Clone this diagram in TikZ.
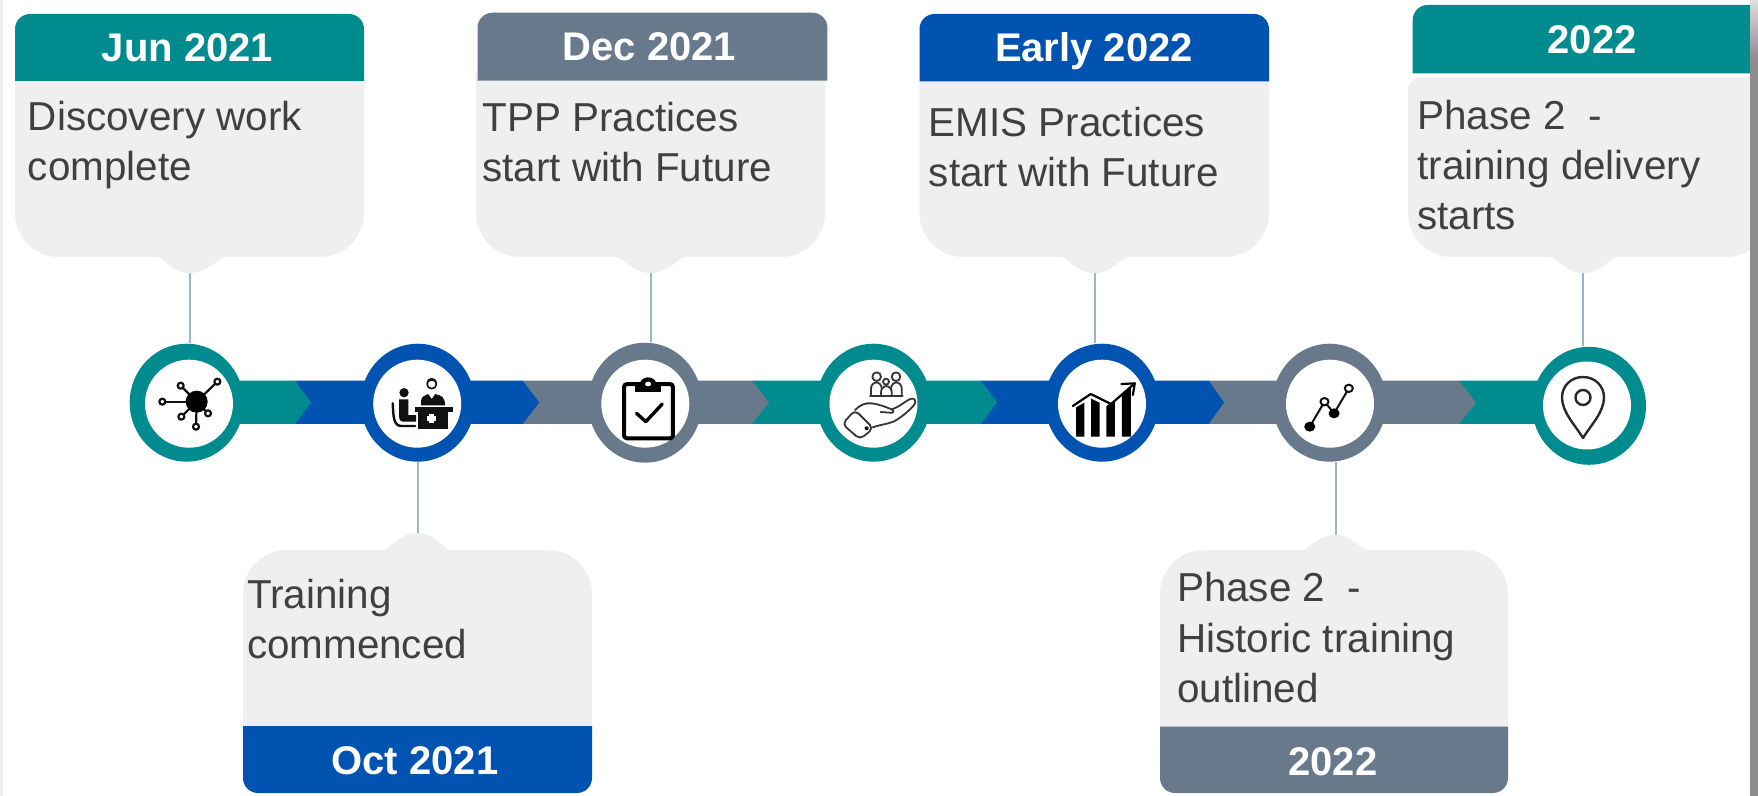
\documentclass[tikz,border=0pt]{standalone}
\usepackage{fontspec}
\setmainfont{Liberation Sans}
\usetikzlibrary{shapes.geometric}
\definecolor{tealc}{HTML}{008B8F}
\definecolor{bluec}{HTML}{0053B1}
\definecolor{grayc}{HTML}{67798A}
\definecolor{bodyc}{HTML}{EFEFF1}
\definecolor{textc}{HTML}{404040}
\definecolor{linec}{HTML}{9DB5C9}
\definecolor{iconc}{HTML}{111111}
\tikzset{
  bodytext/.style={anchor=base west,inner sep=0pt,align=left,text=textc,font=\fontsize{20.2}{25.2}\selectfont},
  headtext/.style={anchor=base,inner sep=0pt,text=white,font=\fontsize{20}{24}\selectfont\bfseries},
  ringo/.style={ellipse,inner sep=0pt,fill=#1,minimum width=57pt,minimum height=59pt},
  ringi/.style={circle,inner sep=0pt,fill=white,minimum size=44pt},
  conn/.style={draw=linec,line width=1pt},
  ico/.style={draw=iconc,line width=1.1pt,line cap=round,line join=round},
}
% colour x1 y1 x2 y2 rtop rbottom
\newcommand{\rbox}[7]{\fill[#1] ({(#2+#4)/2},#3) [rounded corners=#6] -- (#4,#3) -- (#4,{(#3+#5)/2}) [rounded corners=#7] -- (#4,#5) -- (#2,#5) -- (#2,{(#3+#5)/2}) [rounded corners=#6] -- (#2,#3) -- cycle;}
% name bx1 bx2 cx ybase ytip
\newcommand{\bump}[6]{\fill[bodyc] (#2,#5) .. controls ({#2+14},{#5+(#6-#5)*0.55}) and ({#4-14},#6) .. (#4,#6) .. controls ({#4+14},#6) and ({#3-14},{#5+(#6-#5)*0.55}) .. (#3,#5) -- cycle; \coordinate (#1) at (#4,#6);}
\newcommand{\chev}[4]{\fill[#1] (#2,380.7) -- (#3,380.7) -- (#4,402.5) -- (#3,424) -- (#2,424) -- cycle;}
\begin{document}
\begin{tikzpicture}[x=0.5pt,y=-0.5pt]
\useasboundingbox (0,0) rectangle (1758,796);
\fill[white] (0,0) rectangle (1758,796);
\fill[black!6] (0,0) rectangle (3,796);

% callout boxes
\rbox{bodyc}{15}{70}{364}{257}{1pt}{22pt}
\bump{t1}{157}{225}{189.5}{256}{273}
\rbox{tealc}{15}{14}{364}{81}{7.5pt}{0.01pt}
\rbox{bodyc}{476}{70}{825}{257}{1pt}{22pt}
\bump{t3}{616}{685}{650.6}{256}{273}
\rbox{grayc}{477.5}{12.7}{827.4}{80.7}{7.5pt}{0.01pt}
\rbox{bodyc}{919.5}{70}{1269}{257}{1pt}{22pt}
\bump{t5}{1061}{1128}{1095}{256}{273}
\rbox{bluec}{919.5}{14}{1269}{81.5}{7.5pt}{0.01pt}
\rbox{bodyc}{1408}{77}{1770}{257}{7pt}{22pt}
\bump{t7}{1550}{1617}{1583}{256}{273}
\rbox{tealc}{1412.7}{5}{1770}{73.5}{7.5pt}{0.01pt}
\rbox{bodyc}{243}{550}{592}{730}{22pt}{0.01pt}
\bump{t2}{383}{450}{417.7}{551}{533}
\rbox{bluec}{243}{726}{592}{793}{0.01pt}{7.5pt}
\rbox{bodyc}{1160}{550}{1508}{730}{22pt}{0.01pt}
\bump{t6}{1302}{1367}{1335.7}{551}{535}
\rbox{grayc}{1160}{726.7}{1508}{793}{0.01pt}{7.5pt}

% band
\chev{tealc}{1459}{1600}{1600}
\chev{grayc}{1208}{1459}{1476}
\chev{bluec}{981}{1208.7}{1224}
\chev{tealc}{752}{981}{997}
\chev{grayc}{522}{752}{769}
\chev{bluec}{295}{522.7}{539.3}
\chev{tealc}{186}{295}{311}

% rings
\node[ringo=tealc] (c1) at (186.7,402.7) {};
\node[ringo=bluec] (c2) at (417.7,402.7) {};
\node[ringo=grayc,minimum height=60pt] (c3) at (645,402.7) {};
\node[ringo=tealc] (c4) at (873.5,402.7) {};
\node[ringo=bluec] (c5) at (1102,402.7) {};
\node[ringo=grayc] (c6) at (1329.6,402.7) {};
\node[ringo=tealc] (c7) at (1589,405.8) {};
\node[ringi] (i1) at (189,403.7) {};
\node[ringi] (i2) at (417.2,403.7) {};
\node[ringi] (i3) at (645.3,403.7) {};
\node[ringi] (i4) at (873.5,403.7) {};
\node[ringi] (i5) at (1102,403.7) {};
\node[ringi] (i6) at (1330,403.7) {};
\node[ringi] (i7) at (1587,405.5) {};

% connectors
\draw[conn] (t1) -- (t1 |- c1.north);
\draw[conn] (t3) -- (t3 |- c3.north);
\draw[conn] (t5) -- (t5 |- c5.north);
\draw[conn] (t7) -- (t7 |- c7.north);
\draw[conn] (t2) -- (t2 |- c2.south);
\draw[conn] (t6) -- (t6 |- c6.south);

% icon 1: network
\begin{scope}[shift={(100,320)},x=0.1667pt,y=-0.1667pt]
  \foreach \a/\b in {187/245,242/197,352/185,324/280,288/320,244/290}{
    \draw[ico] (290,245) -- (\a,\b);
    \draw[ico,fill=white] (\a,\b) circle (9);
  }
  \fill[black] (290,245) circle (33);
\end{scope}

% icon 2: doctor and patient
\begin{scope}[shift={(100,320)},x=0.1667pt,y=-0.1667pt]
  \fill[iconc] (945,260) rectangle (1060,275);
  \fill[iconc] (955,275) rectangle (1045,328);
  \fill[white] (988,282) rectangle (1002,308);
  \fill[white] (982,288) rectangle (1008,302);
  \fill[iconc] (963,256) -- (963,242) .. controls (963,230) and (975,226) .. (985,222) -- (1005,222) .. controls (1025,226) and (1035,232) .. (1035,256) -- cycle;
  \fill[white] (985,222) -- (1005,222) -- (995,236) -- cycle;
  \draw[ico,fill=white,line width=0.8pt] (995,192) circle (14);
  \fill[iconc] (980,190) .. controls (980,168) and (1010,168) .. (1010,190) .. controls (1000,180) and (990,180) .. (980,190) -- cycle;
  \fill[iconc] (912,218) circle (14);
  \fill[iconc] (897,238) -- (925,238) -- (925,285) -- (948,285) -- (948,305) -- (908,305) .. controls (900,305) and (897,298) .. (897,290) -- cycle;
  \draw[ico,line width=1.2pt] (878,250) .. controls (880,290) and (880,318) .. (905,318) -- (945,318);
\end{scope}

% icon 3: clipboard
\begin{scope}[shift={(580,320)},x=0.1913pt,y=-0.1667pt]
  \draw[ico,draw=black,line width=2pt,rounded corners=1.5pt] (115,192) rectangle (243,355);
  \fill[black] (145,190) rectangle (212,215);
  \fill[black] (178,192) ellipse [x radius=21,y radius=20];
  \fill[white] (178,192) ellipse [x radius=8,y radius=7];
  \draw[ico,draw=black,line width=1.7pt] (148,280) -- (172,305) -- (215,252);
\end{scope}

% icon 4: hand with people
\begin{scope}[shift={(810,350)},x=0.1667pt,y=-0.1667pt]
  \tikzset{handline/.style={draw=iconc!85,line width=0.9pt,line join=round,line cap=round}}
  \draw[handline] (200,80) circle (13);
  \draw[handline] (258,80) circle (13);
  \draw[handline] (228,95) circle (9);
  \draw[handline,rounded corners=3pt] (183,137) -- (183,97) -- (215,97) -- (215,137);
  \draw[handline,rounded corners=3pt] (243,137) -- (243,97) -- (275,97) -- (275,137);
  \draw[handline,fill=white,rounded corners=3pt] (213,137) -- (213,108) -- (245,108) -- (245,137);
  \draw[handline] (180,137) -- (278,137);
  \draw[handline,rounded corners=2.5pt] (97,222) -- (135,180) -- (190,235) -- (150,268) -- cycle;
  \fill[iconc] (170,235) circle (6);
  \draw[handline] (135,180) .. controls (150,165) and (165,158) .. (185,160) .. controls (205,162) and (225,170) .. (245,178) .. controls (270,170) and (290,150) .. (303,146) .. controls (315,143) and (320,155) .. (312,165) .. controls (295,185) and (270,205) .. (250,215) .. controls (230,223) and (205,225) .. (188,232);
  \draw[handline] (245,178) .. controls (255,182) and (250,190) .. (240,188) -- (212,186);
\end{scope}

% icon 5: bar chart
\begin{scope}[shift={(580,320)},x=0.1913pt,y=-0.1667pt]
  \fill[black] (1297,350) -- (1297,262) -- (1318,248) -- (1318,350) -- cycle;
  \fill[black] (1336,350) -- (1336,236) -- (1358,248) -- (1358,350) -- cycle;
  \fill[black] (1376,350) -- (1376,258) -- (1398,240) -- (1398,350) -- cycle;
  \fill[black] (1416,350) -- (1416,225) -- (1440,200) -- (1440,350) -- cycle;
  \draw[ico,draw=black,line width=1.1pt] (1288,258) -- (1335,222) -- (1388,252) -- (1450,190);
  \draw[ico,draw=black,line width=1.1pt] (1415,192) -- (1450,190) -- (1445,225);
\end{scope}

% icon 6: line chart
\begin{scope}[shift={(1180,320)},x=0.1843pt,y=-0.1667pt]
  \draw[ico,line width=1pt] (352,320) -- (392,245) -- (418,280) -- (458,205);
  \fill[black] (352,320) ellipse [x radius=15,y radius=15];
  \fill[black] (418,280) ellipse [x radius=15,y radius=15];
  \draw[ico,line width=1pt,fill=white] (392,245) ellipse [x radius=11,y radius=11];
  \draw[ico,line width=1pt,fill=white] (458,205) ellipse [x radius=11,y radius=11];
\end{scope}

% icon 7: pin
\draw[ico,draw=iconc!90,line width=1.2pt] (1583,438) .. controls (1575,425) and (1562,412) .. (1562,397.5) .. controls (1562,386) and (1571,377) .. (1583,377) .. controls (1595,377) and (1604,386) .. (1604,397.5) .. controls (1604,412) and (1591,425) .. (1583,438) -- cycle;
\draw[ico,draw=iconc!90,line width=1.2pt] (1583,397.5) circle (7.5);

% texts
\node[headtext] (h1) at (187.5,61.7) {Jun 2021};
\node[headtext] (h3) at (649.5,61) {Dec 2021};
\node[headtext] (h5) at (1094,61.7) {Early 2022};
\node[headtext] (h7) at (1592,54) {2022};
\node[headtext] (h2) at (415,775) {Oct 2021};
\node[headtext] (h6) at (1333,775.7) {2022};
\node[bodytext] (b1) at (27.5,181) {Discovery work\\complete};
\node[bodytext] (b3) at (482,181.7) {TPP Practices\\start with Future};
\node[bodytext] (b5) at (928.5,187) {EMIS Practices\\start with Future};
\node[bodytext] (b7) at (1417,230) {Phase 2\ \ -\\training delivery\\starts};
\node[bodytext] (b2) at (246.7,659) {Training\\commenced};
\node[bodytext] (b6) at (1176.7,702.7) {Phase 2\ \ -\\Historic training\\outlined};

% window edge
\fill[black!45] (1750,50) rectangle (1758,796);
\shade[top color=black!13,bottom color=black!45] (1750,0) rectangle (1758,60);
\end{tikzpicture}
\end{document}
